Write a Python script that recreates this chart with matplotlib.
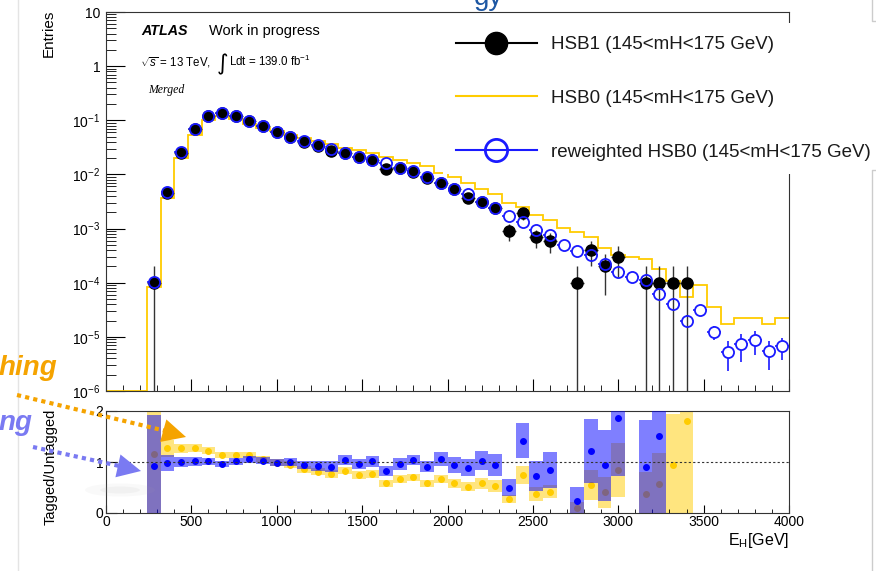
import numpy as np
import matplotlib
matplotlib.use("Agg")
import matplotlib.pyplot as plt
from matplotlib.lines import Line2D
from matplotlib.patches import Ellipse
from matplotlib.ticker import MultipleLocator, LogLocator, FixedLocator, FuncFormatter, NullFormatter

plt.rcParams['font.family'] = ['Liberation Sans', 'DejaVu Sans']
plt.rcParams['mathtext.fontset'] = 'custom'
plt.rcParams['mathtext.rm'] = 'Liberation Sans'
plt.rcParams['mathtext.it'] = 'Liberation Sans:italic'
plt.rcParams['mathtext.bf'] = 'Liberation Sans:bold'

# ---- data ----
# 80 GeV bins from 0 to 4000 GeV
edges = np.arange(0, 4001, 80)
centers = edges[:-1] + 40

# HSB0, drawn as a step histogram (all 50 bins)
hsb0 = [0, 0, 0, 8.2e-5, 3.6e-3, 0.020, 0.054, 0.100, 0.120, 0.107,
        0.086, 0.073, 0.063, 0.053, 0.047, 0.042, 0.036, 0.0305, 0.0280, 0.0245,
        0.0214, 0.0185, 0.0160, 0.0142, 0.0108, 0.0088, 0.0068, 0.0053, 0.0043, 0.0030,
        0.0025, 0.00176, 0.00142, 0.00102, 8.6e-4, 6.95e-4, 4.4e-4, 3.3e-4, 3.0e-4, 2.7e-4,
        1.8e-4, 1.08e-4, 5.4e-5, 9.0e-5, 3.5e-5, 1.75e-5, 2.26e-5, 2.26e-5, 1.75e-5, 2.26e-5]

# HSB1 (filled black points)
hsb1_x = [280, 360, 440, 520, 600, 680, 760, 840, 920, 1000,
          1080, 1160, 1240, 1320, 1400, 1480, 1560, 1640, 1720, 1800,
          1880, 1960, 2040, 2120, 2200, 2280, 2360, 2440, 2520, 2600,
          2760, 2840, 2920, 3000, 3160, 3240, 3320, 3400]
hsb1 = [1.0e-4, 4.6e-3, 0.0253, 0.069, 0.122, 0.136, 0.122, 0.098, 0.077, 0.062,
        0.050, 0.0405, 0.0337, 0.0276, 0.0253, 0.0207, 0.0185, 0.0124, 0.013, 0.0112,
        0.0085, 0.007, 0.0053, 0.0036, 0.0031, 0.0024, 9.0e-4, 1.9e-3, 7.0e-4, 6.0e-4,
        1.0e-4, 4.0e-4, 2.0e-4, 3.0e-4, 1.0e-4, 1.0e-4, 1.0e-4, 1.0e-4]
hsb1_err = [1.0e-4, 6.8e-4, 1.6e-3, 2.6e-3, 3.5e-3, 3.7e-3, 3.5e-3, 3.1e-3, 2.8e-3, 2.5e-3,
            2.2e-3, 2.0e-3, 1.8e-3, 1.7e-3, 1.6e-3, 1.4e-3, 1.4e-3, 1.1e-3, 1.1e-3, 1.1e-3,
            9.2e-4, 8.4e-4, 7.3e-4, 6.0e-4, 5.6e-4, 4.9e-4, 3.0e-4, 4.4e-4, 2.6e-4, 2.4e-4,
            1.0e-4, 2.0e-4, 1.4e-4, 1.7e-4, 1.0e-4, 1.0e-4, 1.0e-4, 1.0e-4]

# reweighted HSB0 (open blue circles), bins 280 .. 3960
rw_x = centers[3:]
rw = [1.05e-4, 4.7e-3, 0.0255, 0.070, 0.122, 0.135, 0.120, 0.095, 0.077, 0.062,
      0.050, 0.041, 0.0345, 0.029, 0.0253, 0.021, 0.0185, 0.0161, 0.013, 0.0115,
      0.009, 0.0068, 0.0053, 0.0043, 0.0031, 0.0024, 0.00169, 0.00131, 9.4e-4, 7.5e-4,
      4.9e-4, 3.9e-4, 3.3e-4, 2.2e-4, 1.56e-4, 1.29e-4, 1.12e-4, 6.3e-5, 4.0e-5, 2.0e-5,
      3.1e-5, 1.23e-5, 5.3e-6, 7.4e-6, 8.6e-6, 5.4e-6, 6.7e-6]
rw_err = [1e-5, 7e-5, 1.6e-4, 2.6e-4, 3.5e-4, 3.7e-4, 3.5e-4, 3.1e-4, 2.8e-4, 2.5e-4,
          2.2e-4, 2.0e-4, 1.9e-4, 1.7e-4, 1.6e-4, 1.45e-4, 1.36e-4, 1.27e-4, 1.14e-4, 1.07e-4,
          9.5e-5, 8.2e-5, 7.3e-5, 6.6e-5, 5.6e-5, 4.9e-5, 4.1e-5, 3.6e-5, 3.1e-5, 2.7e-5,
          2.2e-5, 2.0e-5, 1.8e-5, 1.5e-5, 1.25e-5, 1.1e-5, 1.05e-5, 8e-6, 6.3e-6, 5e-6,
          7e-6, 3.5e-6, 3e-6, 4e-6, 4e-6, 3e-6, 3e-6]

# ratio panel
ratio_x = [280, 360, 440, 520, 600, 680, 760, 840, 920, 1000,
           1080, 1160, 1240, 1320, 1400, 1480, 1560, 1640, 1720, 1800,
           1880, 1960, 2040, 2120, 2200, 2280, 2360, 2440, 2520, 2600,
           2760, 2840, 2920, 3000, 3160, 3240]
ratio_blue = [0.92, 0.974, 1.00, 1.01, 1.01, 0.96, 1.01, 1.05, 1.026, 0.987,
              1.00, 0.94, 0.92, 0.91, 1.04, 0.96, 1.01, 0.823, 0.96, 1.04,
              0.91, 1.06, 0.94, 0.89, 1.026, 0.94, 0.50, 1.42, 0.73, 0.84,
              0.235, 1.216, 0.935, 1.856, 0.90, 1.51]
ratio_blue_err = [1.01, 0.16, 0.09, 0.08, 0.07, 0.065, 0.07, 0.07, 0.07, 0.07,
                  0.07, 0.08, 0.09, 0.10, 0.10, 0.095, 0.10, 0.09, 0.115, 0.105,
                  0.105, 0.14, 0.15, 0.165, 0.19, 0.21, 0.17, 0.34, 0.29, 0.35,
                  0.27, 0.63, 0.70, 1.13, 0.92, 1.6]
ratio_yel_x = ratio_x + [3320, 3400]
ratio_yel = [1.157, 1.268, 1.27, 1.27, 1.22, 1.137, 1.137, 1.137, 1.06, 0.987,
             0.95, 0.86, 0.81, 0.765, 0.83, 0.745, 0.76, 0.58, 0.666, 0.70,
             0.58, 0.666, 0.58, 0.516, 0.58, 0.53, 0.27, 0.745, 0.373, 0.418,
             0.105, 0.55, 0.405, 0.843, 0.366, 0.562, 0.94, 1.8]
ratio_yel_err = [1.5, 0.17, 0.085, 0.08, 0.065, 0.065, 0.065, 0.065, 0.065, 0.065,
                 0.065, 0.07, 0.07, 0.075, 0.075, 0.08, 0.075, 0.065, 0.075, 0.07,
                 0.065, 0.08, 0.09, 0.09, 0.11, 0.12, 0.075, 0.18, 0.13, 0.125,
                 0.12, 0.29, 0.30, 0.52, 0.43, 0.61, 1.0, 1.8]

decades = [1e-6, 1e-5, 1e-4, 1e-3, 1e-2, 1e-1, 1, 10]

YEL = '#ffcc00'
BLUE = '#1a1aff'
ORANGE = '#f5a300'
LILAC = '#7a7af2'

W, H = 876, 571


def fx(p):
    return p / W


def fy(p):
    return 1 - p / H


fig = plt.figure(figsize=(W / 100, H / 100), dpi=100)
ax = fig.add_axes([fx(106), fy(391), fx(789) - fx(106), fy(12) - fy(391)])
axr = fig.add_axes([fx(106), fy(513), fx(789) - fx(106), fy(411) - fy(513)])

# ---- top panel ----
ax.set_yscale('log')
ax.stairs(np.clip(hsb0, 1e-6, None), edges, color=YEL, lw=1.3, baseline=None,
          clip_on=False, zorder=2)

# blue error bars first, then white discs so the bars stop at the circle edge
rlo = [min(e, v - 1e-12) for v, e in zip(rw, rw_err)]
ax.errorbar(rw_x, rw, yerr=[rlo, rw_err], xerr=40, fmt='none', ecolor=BLUE,
            elinewidth=1.2, capsize=0, zorder=2.5)
ax.plot(rw_x, rw, 'o', ms=8, mfc='white', mec='none', zorder=2.6)

lo = [min(e, v - 1e-9) for v, e in zip(hsb1, hsb1_err)]
ax.errorbar(hsb1_x, hsb1, yerr=[lo, hsb1_err], xerr=40, fmt='o', color='black',
            ecolor='#333333', elinewidth=1.0, ms=8, capsize=0, zorder=3)
ax.plot(rw_x, rw, 'o', ms=8, mfc='none', mec=BLUE, mew=1.3, zorder=4)

ax.set_xlim(0, 4000)
ax.set_ylim(1e-6, 10)
ax.yaxis.set_major_locator(FixedLocator(decades))


def logfmt(v, pos):
    e = int(round(np.log10(v)))
    if e == 0:
        return '1'
    if e == 1:
        return '10'
    return r'$10^{%d}$' % e


ax.yaxis.set_major_formatter(FuncFormatter(logfmt))
ax.yaxis.set_minor_locator(LogLocator(base=10, subs=np.arange(2, 10), numticks=50))
ax.yaxis.set_minor_formatter(NullFormatter())
ax.xaxis.set_major_locator(MultipleLocator(500))
ax.xaxis.set_minor_locator(MultipleLocator(100))
ax.tick_params(axis='y', which='major', direction='in', length=14, width=0.8,
               labelsize=10, pad=4)
ax.tick_params(axis='y', which='minor', direction='in', length=7, width=0.6)
ax.tick_params(axis='x', which='major', direction='in', length=8.5, width=0.8,
               labelbottom=False)
ax.tick_params(axis='x', which='minor', direction='in', length=4.5, width=0.6)
for s in ax.spines.values():
    s.set_linewidth(0.8)
    s.set_color('#333333')

handles = [
    Line2D([], [], color='black', lw=1.5, marker='o', ms=16, mfc='black', mec='black'),
    Line2D([], [], color=YEL, lw=1.5),
    Line2D([], [], color=BLUE, lw=1.5, marker='o', ms=16, mfc='none', mec=BLUE, mew=2),
]
labels = ['HSB1 (145<mH<175 GeV)', 'HSB0 (145<mH<175 GeV)',
          'reweighted HSB0 (145<mH<175 GeV)']
leg = ax.legend(handles, labels, loc='upper left', bbox_to_anchor=(fx(443), fy(23)),
                bbox_transform=fig.transFigure, frameon=True, fancybox=False,
                framealpha=1, edgecolor='none', facecolor='white', fontsize=13.5,
                handlelength=4.3, handletextpad=0.75, labelspacing=1.95,
                borderpad=0.7, borderaxespad=0, numpoints=1)
for t in leg.get_texts():
    t.set_color('#1a1a1a')
leg.set_zorder(10)

# labels inside the top panel
fig.text(fx(141), fy(35), 'ATLAS', fontsize=10.3, weight='bold', style='italic',
         va='baseline')
fig.text(fx(209), fy(35), 'Work in progress', fontsize=10.5, va='baseline')
fig.text(fx(140), fy(66), r'$\sqrt{s}$ = 13 TeV,', fontsize=8.3, va='baseline')
fig.text(fx(217), fy(70), '\u222b', fontsize=16, va='baseline',
         family=['DejaVu Sans'])
fig.text(fx(229), fy(66), r'Ldt = 139.0 fb$^{-1}$', fontsize=8.3, va='baseline')
fig.text(fx(148), fy(93), 'Merged', fontsize=8.5, family=['Liberation Serif'],
         style='italic', va='baseline')
fig.text(fx(49), fy(10), 'Entries', rotation=90, fontsize=11, ha='center', va='top')

# ---- ratio panel ----
axr.bar(ratio_yel_x, 2 * np.array(ratio_yel_err), bottom=np.array(ratio_yel) - np.array(ratio_yel_err),
        width=80, color=YEL, alpha=0.5, lw=0, zorder=1)
axr.plot(ratio_yel_x, ratio_yel, 'o', color=YEL, ms=4, zorder=2)
axr.bar(ratio_x, 2 * np.array(ratio_blue_err), bottom=np.array(ratio_blue) - np.array(ratio_blue_err),
        width=80, color='#0000ff', alpha=0.5, lw=0, zorder=3)
axr.plot(ratio_x, ratio_blue, 'o', color='#0000ff', ms=4, zorder=4)
axr.axhline(1, color='#333333', lw=0.8, ls=(0, (2, 2)), zorder=5)

axr.set_xlim(0, 4000)
axr.set_ylim(0, 2)
axr.set_yticks([0, 1, 2])
axr.set_yticklabels(['0', '1', '2'])
axr.xaxis.set_major_locator(MultipleLocator(500))
axr.xaxis.set_minor_locator(MultipleLocator(100))
axr.tick_params(axis='x', which='major', direction='in', length=6, width=0.8,
                labelsize=10, pad=1.5)
axr.tick_params(axis='x', which='minor', direction='in', length=3, width=0.6)
axr.tick_params(axis='y', which='major', direction='in', length=8, width=0.8,
                labelsize=10, pad=2)
for s in axr.spines.values():
    s.set_linewidth(0.8)
    s.set_color('#333333')

fig.text(fx(51), fy(467), 'Tagged/Untagged', rotation=90, fontsize=10.5,
         ha='center', va='center')
fig.text(fx(789), fy(545), r'E$_{\mathrm{H}}$[GeV]', fontsize=11.5, ha='right',
         va='baseline')

# ---- slide overlay (cut-off words, arrows, frames) ----
ov = fig.add_axes([0, 0, 1, 1], zorder=20)
ov.set_xlim(0, W)
ov.set_ylim(H, 0)
ov.axis('off')
ov.patch.set_alpha(0)

ov.plot([18, 18], [0, H], color='#e4e4e4', lw=1)
ov.plot([872, 872, 876], [0, 21, 21], color='#cccccc', lw=1)
ov.plot([876, 872, 872], [170, 170, H], color='#cccccc', lw=1)
ov.add_patch(Ellipse((120, 490), 70, 13, color='#aaaaaa', alpha=0.07, lw=0))
ov.add_patch(Ellipse((120, 490), 40, 7, color='#aaaaaa', alpha=0.09, lw=0))

ov.text(474, 5, 'gy', fontsize=20, color='#1d57a3', va='baseline', clip_on=True)
ov.text(-1, 375, 'hing', fontsize=20, color=ORANGE, weight='bold', style='italic',
        va='baseline')
ov.text(-1, 430, 'ng', fontsize=20, color=LILAC, weight='bold', style='italic',
        va='baseline')

ov.plot([17, 170], [395, 432], color=ORANGE, lw=3, ls=(0, (1, 1)),
        dash_capstyle='butt')
ov.annotate('', xy=(186, 437), xytext=(168, 432),
            arrowprops=dict(arrowstyle='-|>,head_length=0.85,head_width=0.42',
                            mutation_scale=20, color=ORANGE, lw=0,
                            shrinkA=0, shrinkB=0))
ov.plot([33, 124], [447, 467], color=LILAC, lw=3, ls=(0, (1, 1)),
        dash_capstyle='butt')
ov.annotate('', xy=(141, 471), xytext=(123, 467),
            arrowprops=dict(arrowstyle='-|>,head_length=0.85,head_width=0.42',
                            mutation_scale=20, color=LILAC, lw=0,
                            shrinkA=0, shrinkB=0))

fig.savefig('out.png', dpi=100)
